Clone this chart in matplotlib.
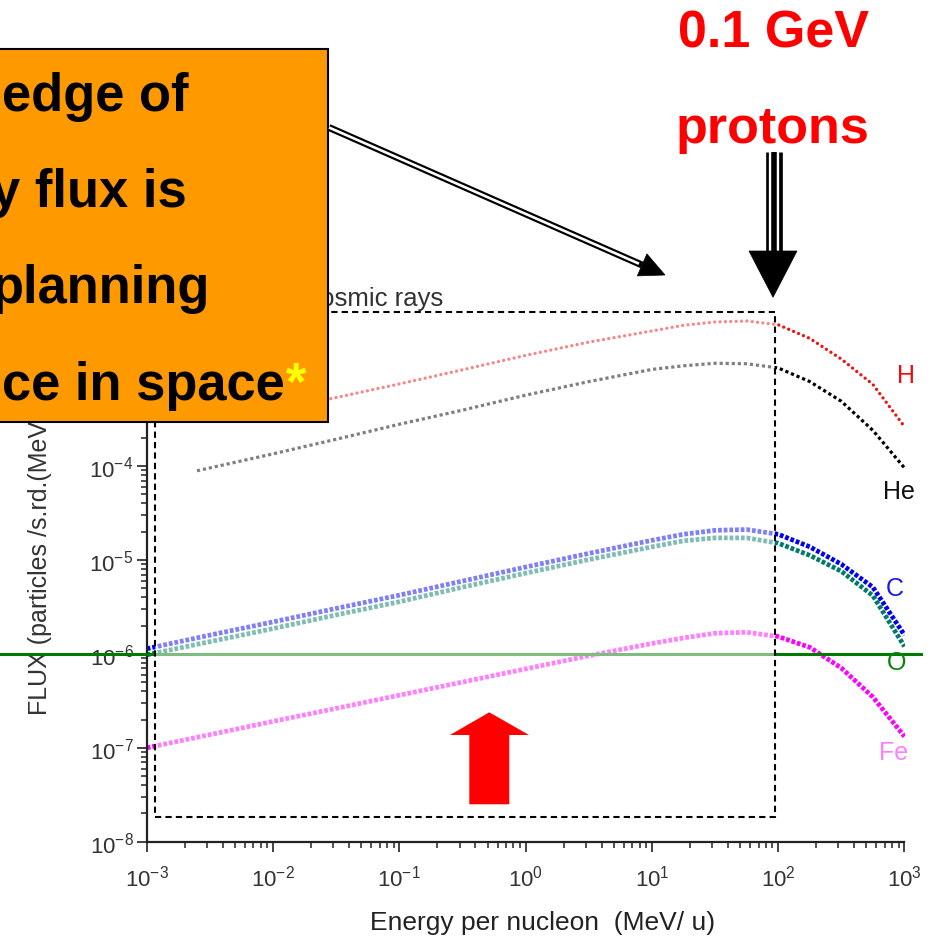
import matplotlib
matplotlib.use('Agg')
import numpy as np
import matplotlib.pyplot as plt
from matplotlib.patches import Rectangle, Polygon
from matplotlib.lines import Line2D
from matplotlib.ticker import LogLocator, FuncFormatter, NullFormatter

plt.rcParams['font.family'] = ['Liberation Sans', 'DejaVu Sans']
plt.rcParams['mathtext.default'] = 'regular'

# ---------------- data ----------------
energy_grid = [1e-3, 3.16e-3, 1e-2, 3.16e-2, 0.1, 0.316, 1.0, 3.16, 10.0,
               17.8, 31.6, 56.2, 100.0, 178.0, 316.0, 562.0, 1000.0]

h_energy = [1e-2, 3.16e-2, 0.1, 0.316, 1.0, 3.16, 10.0, 17.8, 31.6, 56.2,
            100.0, 178.0, 316.0, 562.0, 1000.0]
h_flux = [3.85e-4, 5.37e-4, 7.50e-4, 1.06e-3, 1.51e-3, 2.09e-3, 2.75e-3,
          3.16e-3, 3.43e-3, 3.51e-3, 3.20e-3, 2.29e-3, 1.38e-3, 7.41e-4, 2.63e-4]

he_energy = [2.5e-3, 1e-2, 3.16e-2, 0.1, 0.316, 1.0, 3.16, 10.0, 17.8, 31.6,
             56.2, 100.0, 178.0, 316.0, 562.0, 1000.0]
he_flux = [8.91e-5, 1.35e-4, 1.93e-4, 2.79e-4, 3.94e-4, 5.69e-4, 7.94e-4,
           1.07e-3, 1.17e-3, 1.245e-3, 1.23e-3, 1.11e-3, 7.94e-4, 4.90e-4,
           2.40e-4, 9.55e-5]

c_flux = [1.135e-6, 1.585e-6, 2.19e-6, 3.05e-6, 4.22e-6, 5.96e-6, 8.41e-6,
          1.175e-5, 1.62e-5, 1.88e-5, 2.07e-5, 2.11e-5, 1.88e-5, 1.38e-5,
          9.02e-6, 5.13e-6, 1.585e-6]
o_flux = [9.77e-7, 1.35e-6, 1.86e-6, 2.60e-6, 3.59e-6, 5.13e-6, 7.24e-6,
          1.01e-5, 1.38e-5, 1.60e-5, 1.72e-5, 1.72e-5, 1.51e-5, 1.12e-5,
          7.59e-6, 4.17e-6, 1.20e-6]
fe_flux = [1.00e-7, 1.38e-7, 1.91e-7, 2.63e-7, 3.63e-7, 5.01e-7, 6.92e-7,
           9.55e-7, 1.29e-6, 1.48e-6, 1.66e-6, 1.70e-6, 1.53e-6, 1.175e-6,
           7.08e-7, 3.47e-7, 1.32e-7]

species_labels = ['H', 'He', 'C', 'O', 'Fe']
x_ticks = [1e-3, 1e-2, 1e-1, 1e0, 1e1, 1e2, 1e3]
y_ticks = [1e-8, 1e-7, 1e-6, 1e-5, 1e-4, 1e-3, 1e-2]
reference_flux = 1e-6
box_energy = (1.164e-3, 94.5)
box_flux = (1.83e-8, 4.37e-3)

# ---------------- figure ----------------
W, H = 932, 937
fig = plt.figure(figsize=(W / 100, H / 100), dpi=100)
fig.patch.set_facecolor('white')


def fx(x):
    return x / W


def fy(y):
    return 1 - y / H


ax_l, ax_r, ax_b, ax_t = 146.7, 904.5, 842.7, 279.3
ax = fig.add_axes([fx(ax_l), fy(ax_b), (ax_r - ax_l) / W, (ax_b - ax_t) / H])
ax.set_xscale('log')
ax.set_yscale('log')
ax.set_xlim(1e-3, 1e3)
ax.set_ylim(1e-8, 1e-2)
ax.patch.set_visible(False)

for s in ['top', 'right']:
    ax.spines[s].set_visible(False)
for s in ['left', 'bottom']:
    ax.spines[s].set_color('#222222')
    ax.spines[s].set_linewidth(1.6)

ax.set_xticks(x_ticks)
ax.set_yticks(y_ticks)
fmt = FuncFormatter(lambda v, p: r'$10^{%d}$' % int(round(np.log10(v))))
ax.xaxis.set_major_formatter(fmt)
ax.yaxis.set_major_formatter(fmt)
ax.xaxis.set_minor_locator(LogLocator(base=10, subs=np.arange(2, 10), numticks=20))
ax.yaxis.set_minor_locator(LogLocator(base=10, subs=np.arange(2, 10), numticks=20))
ax.xaxis.set_minor_formatter(NullFormatter())
ax.yaxis.set_minor_formatter(NullFormatter())
ax.tick_params(which='major', direction='out', length=7.5, width=1.2,
               color='#222222', labelsize=16, labelcolor='#333333')
ax.tick_params(which='minor', direction='out', length=4, width=1.1, color='#222222')
ax.tick_params(axis='x', which='major', pad=9)
ax.tick_params(axis='y', which='major', pad=2)

# curves
ax.plot(h_energy, h_flux, color='#f01010', lw=2.4, linestyle=(0, (0.01, 1.6)),
        dash_capstyle='round', zorder=2)
ax.plot(he_energy, he_flux, color='#000000', lw=2.3, linestyle=(0, (1, 0.9)),
        dash_capstyle='butt', zorder=2)
ax.plot(energy_grid, c_flux, color='#0000ee', lw=3.4, linestyle=(0, (0.8, 0.4)),
        dash_capstyle='butt', zorder=2)
ax.plot(energy_grid, o_flux, color='#007a68', lw=3.4, linestyle=(0, (0.8, 0.4)),
        dash_capstyle='butt', zorder=2)
ax.plot(energy_grid, fe_flux, color='#ff00ff', lw=3.4, linestyle=(0, (0.8, 0.4)),
        dash_capstyle='butt', zorder=2)

# green reference line across the whole picture
ax.axhline(reference_flux, xmin=(0 - ax_l) / (ax_r - ax_l),
           xmax=(921 - ax_l) / (ax_r - ax_l), color='#007a00', lw=2.2,
           clip_on=False, zorder=3)

# translucent dashed box
ax.add_patch(Rectangle((box_energy[0], box_flux[0]), box_energy[1] - box_energy[0],
                       box_flux[1] - box_flux[0], facecolor='white', alpha=0.5,
                       edgecolor='none', zorder=4))
ax.add_patch(Rectangle((box_energy[0], box_flux[0]), box_energy[1] - box_energy[0],
                       box_flux[1] - box_flux[0], fill=False, edgecolor='black',
                       lw=1.5, linestyle=(0, (3, 2)), zorder=5))

# species labels
label_pos = [(906, 383), (899, 499), (895, 595.5), (897, 670.5), (894, 760)]
label_col = ['#e81010', '#111111', '#1a1ae6', '#0a870a', '#ff80ff']
for lab, (px, py), col in zip(species_labels, label_pos, label_col):
    fig.text(fx(px), fy(py), lab, ha='center', va='baseline', fontsize=18,
             color=col, zorder=6)

# axis labels and title
fig.text(fx(40), fy(715), 'FLUX (particles /s.rd.(MeV/u).m\u00b2)', rotation=90,
         ha='center', va='bottom', fontsize=18, color='#333333', zorder=-1)
fig.text(fx(543), fy(930), 'Energy per nucleon  (MeV/ u)', ha='center',
         va='baseline', fontsize=19, color='#222222')
fig.text(fx(443), fy(306), 'Galactic cosmic rays', ha='right', va='baseline',
         fontsize=18.5, color='#333333', zorder=2)

# orange call-out box
fig.add_artist(Rectangle((fx(-5), fy(423)), 333 / W, (423 - 50) / H,
                         transform=fig.transFigure, facecolor='#ff9900',
                         edgecolor='black', lw=1.5, zorder=10))
box_lines = [('edge of', 188, 111), ('y flux is', 187, 207),
             ('planning', 210, 303), ('ce in space', 285, 400)]
for txt, xr, yb in box_lines:
    fig.text(fx(xr), fy(yb), txt, ha='right', va='baseline', fontsize=37.8,
             fontweight='bold', color='black', zorder=11)
fig.text(fx(286), fy(400), '*', ha='left', va='baseline', fontsize=37.8,
         fontweight='bold', color='#ffff00', zorder=11)

# red header text
fig.text(fx(773), fy(47), '0.1 GeV', ha='center', va='baseline', fontsize=37.5,
         fontweight='bold', color='#ff0000', zorder=11)
fig.text(fx(773), fy(143), 'protons', ha='center', va='baseline', fontsize=37.5,
         fontweight='bold', color='#ff0000', zorder=11)

# diagonal double-line arrow
x0, y0, x1, y1 = 329, 128.5, 642, 266
fig.add_artist(Line2D([fx(x0), fx(x1)], [fy(y0), fy(y1)], transform=fig.transFigure,
                      color='black', lw=5.0, solid_capstyle='butt', zorder=11))
fig.add_artist(Line2D([fx(x0), fx(x1 - 3)], [fy(y0), fy(y1 - 1.3)],
                      transform=fig.transFigure, color='white', lw=1.9,
                      solid_capstyle='butt', zorder=12))
fig.add_artist(Polygon([(fx(665), fy(276)), (fx(637.3), fy(276.9)), (fx(646.9), fy(254.9))],
                       closed=True, transform=fig.transFigure, facecolor='black',
                       edgecolor='black', lw=0.5, zorder=13))

# vertical triple-line arrow
xa = 774.2
for lw_, col in [(12.0, 'black'), (7.4, 'white'), (4.0, 'black')]:
    fig.add_artist(Line2D([fx(xa), fx(xa)], [fy(153), fy(253)], transform=fig.transFigure,
                          color=col, lw=lw_, solid_capstyle='butt', zorder=11))
fig.add_artist(Polygon([(fx(749), fy(252)), (fx(797), fy(252)), (fx(773), fy(298.3))],
                       closed=True, transform=fig.transFigure, facecolor='black',
                       edgecolor='black', lw=0.5, zorder=13))

# red block arrow
red_pts = [(489.3, 713.3), (529, 736), (509.3, 736), (509.3, 805.3),
           (469.3, 805.3), (469.3, 736), (450, 736)]
fig.add_artist(Polygon([(fx(a), fy(b)) for a, b in red_pts], closed=True,
                       transform=fig.transFigure, facecolor='#ff0000',
                       edgecolor='none', zorder=11))

fig.savefig('out.png', dpi=100)
